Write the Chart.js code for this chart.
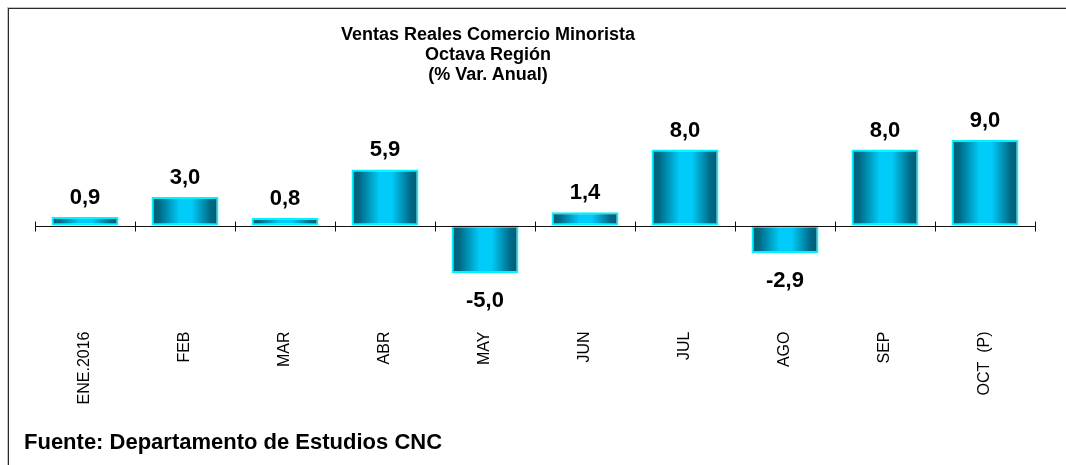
<!DOCTYPE html>
<html>
<head>
<meta charset="utf-8">
<script src="https://cdn.jsdelivr.net/npm/chart.js@4/dist/chart.umd.min.js"></script>
<style>
  html, body { margin: 0; padding: 0; background: #ffffff; }
  body { width: 1066px; height: 465px; position: relative; overflow: hidden; font-family: "Liberation Sans", Arial, sans-serif; }
  #frame { position: absolute; left: 8px; top: 8px; width: 1100px; height: 500px; border-left: 1px solid #2b2b2b; border-top: 1px solid #2b2b2b; box-shadow: -1px -1px 0 #c4c4c4; }
  #title { position: absolute; left: 288px; width: 400px; top: 24px; text-align: center; font-weight: bold; font-size: 18px; line-height: 20px; color: #000; }
  #source { position: absolute; left: 24px; top: 431px; font-weight: bold; font-size: 22px; line-height: 22px; color: #000; white-space: nowrap; }
  #wrap { position: absolute; left: 0; top: 0; width: 1066px; height: 465px; }
</style>
</head>
<body>
<div id="frame"></div>
<div id="wrap"><canvas id="c" width="1066" height="465"></canvas></div>
<div id="title">Ventas Reales Comercio Minorista<br>Octava Región<br>(% Var. Anual)</div>
<div id="source">Fuente: Departamento de Estudios CNC</div>
<script>
const categories = ['ENE.2016', 'FEB', 'MAR', 'ABR', 'MAY', 'JUN', 'JUL', 'AGO', 'SEP', 'OCT  (P)'];
const values = [0.9, 3.0, 0.8, 5.9, -5.0, 1.4, 8.0, -2.9, 8.0, 9.0];
const yMin = -10;
const yMax = 12;

const BAR_FRACTION = 0.67;

function barGradient(ctx) {
  const chart = ctx.chart;
  const xs = chart.scales.x;
  if (!xs || ctx.type !== 'data') return '#00c8f0';
  const cx = xs.getPixelForValue(ctx.dataIndex);
  const w = (xs.getPixelForValue(1) - xs.getPixelForValue(0)) * BAR_FRACTION;
  if (!isFinite(cx) || !isFinite(w)) return '#00c8f0';
  const g = chart.ctx.createLinearGradient(cx - w / 2, 0, cx + w / 2, 0);
  g.addColorStop(0, '#005a72');
  g.addColorStop(0.12, '#006a86');
  g.addColorStop(0.42, '#00ccfa');
  g.addColorStop(0.6, '#00ccfa');
  g.addColorStop(0.88, '#006a86');
  g.addColorStop(1, '#005a72');
  return g;
}

const axisPlugin = {
  id: 'zeroAxis',
  afterDatasetsDraw(chart) {
    const ctx = chart.ctx;
    const xs = chart.scales.x, ys = chart.scales.y;
    const y0 = Math.round(ys.getPixelForValue(0)) + 0.5;
    const step = xs.getPixelForValue(1) - xs.getPixelForValue(0);
    ctx.save();
    ctx.strokeStyle = '#111';
    ctx.lineWidth = 1;
    const left = xs.getPixelForValue(0) - step / 2;
    const right = xs.getPixelForValue(categories.length - 1) + step / 2;
    ctx.beginPath();
    ctx.moveTo(left, y0);
    ctx.lineTo(right, y0);
    for (let i = 0; i <= categories.length; i++) {
      const x = Math.round(xs.getPixelForValue(i) - step / 2) + 0.5;
      ctx.moveTo(x, y0 - 5);
      ctx.lineTo(x, y0 + 5);
    }
    ctx.stroke();
    // value labels
    const meta = chart.getDatasetMeta(0);
    ctx.fillStyle = '#000';
    ctx.font = 'bold 22px "Liberation Sans", Arial, sans-serif';
    ctx.textAlign = 'center';
    ctx.textBaseline = 'alphabetic';
    meta.data.forEach((bar, i) => {
      const v = values[i];
      const txt = v.toFixed(1).replace('.', ',');
      if (v >= 0) ctx.fillText(txt, bar.x, bar.y - 13);
      else ctx.fillText(txt, bar.x, bar.y + 34);
    });
    ctx.restore();
  }
};

new Chart(document.getElementById('c'), {
  type: 'bar',
  data: {
    labels: categories,
    datasets: [{
      data: values,
      backgroundColor: barGradient,
      borderColor: '#00f4ff',
      borderWidth: 2,
      borderSkipped: false,
      barPercentage: BAR_FRACTION,
      categoryPercentage: 1.0
    }]
  },
  options: {
    responsive: false,
    animation: false,
    layout: { padding: { left: 35, right: 31, top: 111.5, bottom: 54.5 } },
    plugins: { legend: { display: false }, title: { display: false }, tooltip: { enabled: false } },
    scales: {
      x: {
        grid: { display: false, drawTicks: false },
        border: { display: false },
        ticks: {
          autoSkip: false,
          minRotation: 90,
          maxRotation: 90,
          padding: 11,
          color: '#000',
          font: { family: '"Liberation Sans", Arial, sans-serif', size: 16 }
        },
        afterFit(scale) { scale.height = 90; }
      },
      y: {
        display: false,
        min: yMin,
        max: yMax
      }
    }
  },
  plugins: [axisPlugin]
});
</script>
</body>
</html>
